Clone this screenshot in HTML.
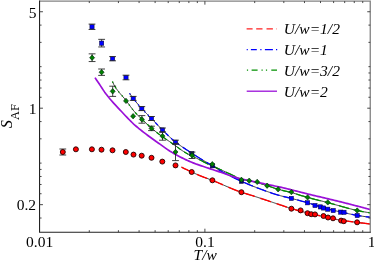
<!DOCTYPE html>
<html><head><meta charset="utf-8"><title>plot</title>
<style>html,body{margin:0;padding:0;background:#fff;overflow:hidden}body{width:374px;height:262px;position:relative;font-family:"Liberation Serif",serif}</style></head>
<body>
<svg width="374" height="262" viewBox="0 0 374 262" style="position:absolute;left:0;top:0;will-change:transform">
<rect x="0" y="0" width="374" height="262" fill="#fff"/>
<g fill="none" stroke-linecap="butt" stroke-linejoin="round">
<path d="M112.50,81.60 L113.79,84.52 L115.09,86.74 L116.38,88.72 L117.68,90.51 L118.97,92.16 L120.26,93.70 L121.56,95.18 L122.85,96.65 L124.15,98.16 L125.44,99.75 L126.73,101.45 L128.03,103.21 L129.32,104.99 L130.62,106.75 L131.91,108.48 L133.20,110.13 L134.50,111.68 L135.79,113.13 L137.09,114.51 L138.38,115.83 L139.67,117.12 L140.97,118.36 L142.26,119.59 L143.56,120.80 L144.85,122.01 L146.14,123.22 L147.44,124.41 L148.73,125.58 L150.03,126.74 L151.32,127.88 L152.61,129.00 L153.91,130.10 L155.20,131.18 L156.49,132.22 L157.79,133.24 L159.08,134.22 L160.38,135.18 L161.67,136.12 L162.96,137.04 L164.26,137.95 L165.55,138.85 L166.85,139.74 L168.14,140.62 L169.43,141.51 L170.73,142.41 L172.02,143.32 L173.32,144.24 L174.61,145.18 L175.90,146.12 L177.20,147.06 L178.49,147.99 L179.79,148.91 L181.08,149.81 L182.37,150.69 L183.67,151.54 L184.96,152.35 L186.26,153.12 L187.55,153.85 L188.84,154.51 L190.14,155.14 L191.43,155.74 L192.73,156.33 L194.02,156.93 L195.31,157.56 L196.61,158.20 L197.90,158.86 L199.20,159.53 L200.49,160.21 L201.78,160.88 L203.08,161.55 L204.37,162.21 L205.67,162.86 L206.96,163.50 L208.25,164.12 L209.55,164.72 L210.84,165.30 L212.14,165.88 L213.43,166.45 L214.72,167.01 L216.02,167.57 L217.31,168.14 L218.61,168.72 L219.90,169.31 L221.19,169.91 L222.49,170.51 L223.78,171.11 L225.08,171.72 L226.37,172.33 L227.66,172.94 L228.96,173.54 L230.25,174.14 L231.55,174.74 L232.84,175.34 L234.13,175.98 L235.43,176.63 L236.72,177.28 L238.02,177.89 L239.31,178.45 L240.60,178.93 L241.90,179.31 L243.19,179.62 L244.48,179.89 L245.78,180.13 L247.07,180.36 L248.37,180.59 L249.66,180.83 L250.95,181.09 L252.25,181.34 L253.54,181.60 L254.84,181.86 L256.13,182.14 L257.42,182.46 L258.72,182.82 L260.01,183.22 L261.31,183.64 L262.60,184.09 L263.89,184.55 L265.19,185.01 L266.48,185.46 L267.78,185.89 L269.07,186.33 L270.36,186.77 L271.66,187.22 L272.95,187.66 L274.25,188.10 L275.54,188.52 L276.83,188.93 L278.13,189.31 L279.42,189.66 L280.72,190.00 L282.01,190.32 L283.30,190.63 L284.60,190.94 L285.89,191.24 L287.19,191.54 L288.48,191.85 L289.77,192.18 L291.07,192.51 L292.36,192.86 L293.66,193.23 L294.95,193.61 L296.24,194.00 L297.54,194.40 L298.83,194.80 L300.13,195.20 L301.42,195.60 L302.71,196.00 L304.01,196.40 L305.30,196.79 L306.60,197.16 L307.89,197.52 L309.18,197.88 L310.48,198.22 L311.77,198.56 L313.07,198.89 L314.36,199.22 L315.65,199.54 L316.95,199.86 L318.24,200.18 L319.54,200.50 L320.83,200.82 L322.12,201.14 L323.42,201.47 L324.71,201.79 L326.01,202.13 L327.30,202.47 L328.59,202.81 L329.89,203.17 L331.18,203.53 L332.47,203.89 L333.77,204.26 L335.06,204.63 L336.36,204.99 L337.65,205.35 L338.94,205.71 L340.24,206.06 L341.53,206.42 L342.83,206.78 L344.12,207.14 L345.41,207.50 L346.71,207.86 L348.00,208.21 L349.30,208.57 L350.59,208.91 L351.88,209.25 L353.18,209.57 L354.47,209.89 L355.77,210.19 L357.06,210.47 L358.35,210.74 L359.65,211.00 L360.94,211.26 L362.24,211.51 L363.53,211.74 L364.82,211.97 L366.12,212.19 L367.41,212.41 L368.71,212.61 L370.00,212.80" stroke="#111" stroke-width="0.8"/>
<path d="M112.50,81.60 L112.82,82.44 L113.13,83.24 L113.45,83.88 L113.76,84.46 L114.08,85.03 L114.39,85.58 L114.71,86.11 L115.02,86.63 L115.34,87.14 L115.65,87.63 L115.97,88.11 L116.28,88.58 L116.60,89.03 L116.91,89.48 L117.23,89.91 L117.54,90.34 L117.86,90.75 L118.17,91.16 L118.49,91.56 L118.80,91.95 L119.12,92.34 L119.43,92.72 L119.75,93.09 L120.06,93.46 L120.38,93.83 L120.69,94.19 L121.01,94.55 L121.32,94.91 L121.64,95.27 L121.95,95.63 L122.27,95.99 L122.58,96.35 L122.90,96.71 L123.21,97.07 L123.53,97.43 L123.84,97.80 L124.16,98.18 L124.47,98.55 L124.79,98.94 L125.11,99.32 L125.42,99.72 L125.74,100.12 L126.05,100.53 L126.37,100.95 L126.68,101.37 L127.00,101.80 L127.31,102.23 L127.63,102.66 L127.94,103.09 L128.26,103.52 L128.57,103.95 L128.89,104.39 L129.20,104.82 L129.52,105.25 L129.83,105.69 L130.15,106.12 L130.46,106.55 L130.78,106.97 L131.09,107.40 L131.41,107.82 L131.72,108.23 L132.04,108.65 L132.35,109.06 L132.67,109.46 L132.98,109.86 L133.30,110.25 L133.61,110.64 L133.93,111.02 L134.24,111.39 L134.56,111.75 L134.87,112.11 L135.19,112.46 L135.50,112.81 L135.82,113.16 L136.13,113.50 L136.45,113.84 L136.76,114.17 L137.08,114.50 L137.39,114.83 L137.71,115.15 L138.03,115.48 L138.34,115.80 L138.66,116.11 L138.97,116.42 L139.29,116.74 L139.60,117.05 L139.92,117.35 L140.23,117.66 L140.55,117.96 L140.86,118.26 L141.18,118.56 L141.49,118.86 L141.81,119.16 L142.12,119.46 L142.44,119.76 L142.75,120.05 L143.07,120.35 L143.38,120.64 L143.70,120.94 L144.01,121.23 L144.33,121.53 L144.64,121.82 L144.96,122.11 L145.27,122.41 L145.59,122.70 L145.90,122.99 L146.22,123.29 L146.53,123.58 L146.85,123.87 L147.16,124.16 L147.48,124.44 L147.79,124.73 L148.11,125.02 L148.42,125.30 L148.74,125.59 L149.05,125.87 L149.37,126.16 L149.68,126.44 L150.00,126.72" stroke="#009000" stroke-width="1.3" stroke-dasharray="1.3 3.4 2.9 4 1.2 4" stroke-dashoffset="0.00"/>
<path d="M150.00,126.72 L150.34,127.02 L150.67,127.32 L151.01,127.61 L151.34,127.91 L151.68,128.20 L152.02,128.49 L152.35,128.78 L152.69,129.07 L153.03,129.36 L153.36,129.64 L153.70,129.93 L154.03,130.21 L154.37,130.49 L154.71,130.77 L155.04,131.04 L155.38,131.32 L155.71,131.59 L156.05,131.86 L156.39,132.13 L156.72,132.40 L157.06,132.67 L157.39,132.93 L157.73,133.19 L158.07,133.45 L158.40,133.71 L158.74,133.96 L159.08,134.22 L159.41,134.47 L159.75,134.72 L160.08,134.97 L160.42,135.22 L160.76,135.46 L161.09,135.71 L161.43,135.95 L161.76,136.19 L162.10,136.43 L162.44,136.67 L162.77,136.91 L163.11,137.14 L163.45,137.38 L163.78,137.62 L164.12,137.85 L164.45,138.08 L164.79,138.32 L165.13,138.55 L165.46,138.78 L165.80,139.01 L166.13,139.25 L166.47,139.48 L166.81,139.71 L167.14,139.94 L167.48,140.17 L167.82,140.40 L168.15,140.63 L168.49,140.86 L168.82,141.09 L169.16,141.32 L169.50,141.56 L169.83,141.79 L170.17,142.02 L170.50,142.25 L170.84,142.49 L171.18,142.72 L171.51,142.96 L171.85,143.20 L172.18,143.43 L172.52,143.67 L172.86,143.91 L173.19,144.16 L173.53,144.40 L173.87,144.64 L174.20,144.88 L174.54,145.13 L174.87,145.37 L175.21,145.62 L175.55,145.86 L175.88,146.10 L176.22,146.35 L176.55,146.59 L176.89,146.84 L177.23,147.08 L177.56,147.32 L177.90,147.57 L178.24,147.81 L178.57,148.05 L178.91,148.29 L179.24,148.53 L179.58,148.77 L179.92,149.00 L180.25,149.24 L180.59,149.47 L180.92,149.71 L181.26,149.94 L181.60,150.17 L181.93,150.39 L182.27,150.62 L182.61,150.84 L182.94,151.07 L183.28,151.29 L183.61,151.50 L183.95,151.72 L184.29,151.93 L184.62,152.14 L184.96,152.35 L185.29,152.55 L185.63,152.75 L185.97,152.95 L186.30,153.15 L186.64,153.34 L186.97,153.53 L187.31,153.72 L187.65,153.90 L187.98,154.07 L188.32,154.25 L188.66,154.42 L188.99,154.59 L189.33,154.75 L189.66,154.91 L190.00,155.07" stroke="#009000" stroke-width="1.3" stroke-dasharray="4.5 4" stroke-dashoffset="0.00"/>
<path d="M190.00,155.07 L191.51,155.77 L193.03,156.46 L194.54,157.17 L196.05,157.92 L197.56,158.69 L199.08,159.47 L200.59,160.26 L202.10,161.04 L203.61,161.82 L205.13,162.59 L206.64,163.34 L208.15,164.07 L209.66,164.77 L211.18,165.45 L212.69,166.12 L214.20,166.78 L215.71,167.44 L217.23,168.11 L218.74,168.78 L220.25,169.47 L221.76,170.17 L223.28,170.88 L224.79,171.59 L226.30,172.30 L227.82,173.01 L229.33,173.71 L230.84,174.41 L232.35,175.11 L233.87,175.85 L235.38,176.61 L236.89,177.36 L238.40,178.06 L239.92,178.68 L241.43,179.18 L242.94,179.56 L244.45,179.88 L245.97,180.16 L247.48,180.43 L248.99,180.70 L250.50,181.00 L252.02,181.30 L253.53,181.59 L255.04,181.90 L256.55,182.24 L258.07,182.63 L259.58,183.08 L261.09,183.57 L262.61,184.09 L264.12,184.63 L265.63,185.17 L267.14,185.68 L268.66,186.19 L270.17,186.71 L271.68,187.23 L273.19,187.75 L274.71,188.25 L276.22,188.74 L277.73,189.19 L279.24,189.62 L280.76,190.01 L282.27,190.39 L283.78,190.75 L285.29,191.10 L286.81,191.45 L288.32,191.82 L289.83,192.19 L291.34,192.59 L292.86,193.00 L294.37,193.44 L295.88,193.89 L297.39,194.35 L298.91,194.82 L300.42,195.29 L301.93,195.76 L303.45,196.23 L304.96,196.68 L306.47,197.13 L307.98,197.55 L309.50,197.96 L311.01,198.36 L312.52,198.75 L314.03,199.13 L315.55,199.51 L317.06,199.89 L318.57,200.26 L320.08,200.63 L321.60,201.01 L323.11,201.39 L324.62,201.77 L326.13,202.16 L327.65,202.56 L329.16,202.97 L330.67,203.39 L332.18,203.81 L333.70,204.24 L335.21,204.67 L336.72,205.09 L338.24,205.52 L339.75,205.93 L341.26,206.34 L342.77,206.76 L344.29,207.18 L345.80,207.60 L347.31,208.02 L348.82,208.44 L350.34,208.84 L351.85,209.24 L353.36,209.62 L354.87,209.98 L356.39,210.32 L357.90,210.65 L359.41,210.96 L360.92,211.25 L362.44,211.54 L363.95,211.82 L365.46,212.08 L366.97,212.34 L368.49,212.57 L370.00,212.80" stroke="#009000" stroke-width="1.3" stroke-dasharray="10.5 4.3" stroke-dashoffset="4.74"/>
<path d="M129.60,93.30 L130.81,95.08 L132.02,96.80 L133.22,98.43 L134.43,99.98 L135.64,101.49 L136.85,102.95 L138.06,104.38 L139.26,105.77 L140.47,107.13 L141.68,108.47 L142.89,109.78 L144.10,111.04 L145.30,112.28 L146.51,113.49 L147.72,114.70 L148.93,115.90 L150.14,117.11 L151.34,118.34 L152.55,119.60 L153.76,120.87 L154.97,122.15 L156.18,123.44 L157.38,124.73 L158.59,126.01 L159.80,127.27 L161.01,128.51 L162.22,129.72 L163.43,130.91 L164.63,132.10 L165.84,133.28 L167.05,134.45 L168.26,135.61 L169.47,136.75 L170.67,137.87 L171.88,138.95 L173.09,140.01 L174.30,141.03 L175.51,142.00 L176.71,142.94 L177.92,143.85 L179.13,144.73 L180.34,145.58 L181.55,146.42 L182.75,147.24 L183.96,148.04 L185.17,148.83 L186.38,149.62 L187.59,150.40 L188.79,151.18 L190.00,151.96 L191.21,152.75 L192.42,153.54 L193.63,154.33 L194.83,155.12 L196.04,155.90 L197.25,156.67 L198.46,157.44 L199.67,158.19 L200.87,158.94 L202.08,159.66 L203.29,160.38 L204.50,161.08 L205.71,161.78 L206.91,162.48 L208.12,163.18 L209.33,163.89 L210.54,164.61 L211.75,165.34 L212.95,166.09 L214.16,166.87 L215.37,167.68 L216.58,168.49 L217.79,169.27 L218.99,170.00 L220.20,170.69 L221.41,171.37 L222.62,172.03 L223.83,172.69 L225.04,173.33 L226.24,173.97 L227.45,174.59 L228.66,175.20 L229.87,175.81 L231.08,176.40 L232.28,176.99 L233.49,177.57 L234.70,178.15 L235.91,178.72 L237.12,179.28 L238.32,179.84 L239.53,180.40 L240.74,180.95 L241.95,181.50 L243.16,182.05 L244.36,182.59 L245.57,183.12 L246.78,183.64 L247.99,184.16 L249.20,184.67 L250.40,185.17 L251.61,185.67 L252.82,186.15 L254.03,186.62 L255.24,187.09 L256.44,187.55 L257.65,188.01 L258.86,188.47 L260.07,188.92 L261.28,189.37 L262.48,189.82 L263.69,190.26 L264.90,190.70 L266.11,191.13 L267.32,191.56 L268.52,191.98 L269.73,192.39 L270.94,192.80 L272.15,193.20 L273.36,193.59 L274.56,193.98 L275.77,194.35 L276.98,194.72 L278.19,195.08 L279.40,195.43 L280.61,195.77 L281.81,196.09 L283.02,196.39 L284.23,196.69 L285.44,196.97 L286.65,197.25 L287.85,197.54 L289.06,197.82 L290.27,198.12 L291.48,198.42 L292.69,198.73 L293.89,199.05 L295.10,199.36 L296.31,199.68 L297.52,200.00 L298.73,200.33 L299.93,200.66 L301.14,200.99 L302.35,201.32 L303.56,201.65 L304.77,201.99 L305.97,202.34 L307.18,202.68 L308.39,203.03 L309.60,203.39 L310.81,203.76 L312.01,204.14 L313.22,204.52 L314.43,204.91 L315.64,205.30 L316.85,205.69 L318.05,206.09 L319.26,206.47 L320.47,206.86 L321.68,207.24 L322.89,207.61 L324.09,207.97 L325.30,208.32 L326.51,208.66 L327.72,208.98 L328.93,209.29 L330.13,209.59 L331.34,209.87 L332.55,210.15 L333.76,210.43 L334.97,210.70 L336.17,210.96 L337.38,211.23 L338.59,211.49 L339.80,211.76 L341.01,212.02 L342.22,212.29 L343.42,212.56 L344.63,212.83 L345.84,213.10 L347.05,213.37 L348.26,213.64 L349.46,213.90 L350.67,214.16 L351.88,214.41 L353.09,214.65 L354.30,214.88 L355.50,215.11 L356.71,215.32 L357.92,215.52 L359.13,215.71 L360.34,215.90 L361.54,216.09 L362.75,216.27 L363.96,216.44 L365.17,216.60 L366.38,216.76 L367.58,216.92 L368.79,217.06 L370.00,217.20" stroke="#111" stroke-width="0.8"/>
<path d="M129.60,93.30 L129.77,93.55 L129.94,93.81 L130.11,94.06 L130.29,94.31 L130.46,94.57 L130.63,94.82 L130.80,95.07 L130.97,95.31 L131.14,95.56 L131.31,95.81 L131.49,96.05 L131.66,96.30 L131.83,96.54 L132.00,96.78 L132.17,97.01 L132.34,97.25 L132.51,97.49 L132.69,97.72 L132.86,97.95 L133.03,98.17 L133.20,98.40 L133.37,98.62 L133.54,98.85 L133.71,99.07 L133.89,99.29 L134.06,99.51 L134.23,99.73 L134.40,99.94 L134.57,100.16 L134.74,100.38 L134.91,100.59 L135.09,100.80 L135.26,101.02 L135.43,101.23 L135.60,101.44 L135.77,101.65 L135.94,101.86 L136.11,102.07 L136.29,102.28 L136.46,102.48 L136.63,102.69 L136.80,102.89 L136.97,103.10 L137.14,103.30 L137.31,103.50 L137.49,103.71 L137.66,103.91 L137.83,104.11 L138.00,104.31 L138.17,104.51 L138.34,104.71 L138.51,104.91 L138.69,105.10 L138.86,105.30 L139.03,105.50 L139.20,105.69 L139.37,105.89 L139.54,106.08 L139.71,106.28 L139.89,106.47 L140.06,106.66 L140.23,106.86 L140.40,107.05 L140.57,107.24 L140.74,107.43 L140.91,107.62 L141.09,107.81 L141.26,108.00 L141.43,108.19 L141.60,108.38 L141.77,108.57 L141.94,108.76 L142.11,108.94 L142.29,109.13 L142.46,109.31 L142.63,109.50 L142.80,109.68 L142.97,109.86 L143.14,110.05 L143.31,110.23 L143.49,110.41 L143.66,110.59 L143.83,110.77 L144.00,110.94 L144.17,111.12 L144.34,111.30 L144.51,111.47 L144.69,111.65 L144.86,111.82 L145.03,112.00 L145.20,112.17 L145.37,112.35 L145.54,112.52 L145.71,112.69 L145.89,112.86 L146.06,113.04 L146.23,113.21 L146.40,113.38 L146.57,113.55 L146.74,113.72 L146.91,113.89 L147.09,114.06 L147.26,114.24 L147.43,114.41 L147.60,114.58 L147.77,114.75 L147.94,114.92 L148.11,115.09 L148.29,115.26 L148.46,115.43 L148.63,115.60 L148.80,115.77 L148.97,115.94 L149.14,116.11 L149.31,116.28 L149.49,116.45 L149.66,116.63 L149.83,116.80 L150.00,116.97" stroke="#0000ff" stroke-width="1.3" stroke-dasharray="1.3 3.4" stroke-dashoffset="0.00"/>
<path d="M150.00,116.97 L150.24,117.21 L150.47,117.45 L150.71,117.69 L150.94,117.93 L151.18,118.17 L151.41,118.41 L151.65,118.65 L151.88,118.90 L152.12,119.14 L152.35,119.39 L152.59,119.63 L152.82,119.88 L153.06,120.13 L153.29,120.38 L153.53,120.62 L153.76,120.87 L154.00,121.12 L154.24,121.37 L154.47,121.62 L154.71,121.87 L154.94,122.12 L155.18,122.37 L155.41,122.63 L155.65,122.88 L155.88,123.13 L156.12,123.38 L156.35,123.63 L156.59,123.88 L156.82,124.13 L157.06,124.38 L157.29,124.63 L157.53,124.88 L157.76,125.13 L158.00,125.38 L158.24,125.63 L158.47,125.88 L158.71,126.13 L158.94,126.37 L159.18,126.62 L159.41,126.86 L159.65,127.11 L159.88,127.35 L160.12,127.60 L160.35,127.84 L160.59,128.08 L160.82,128.32 L161.06,128.56 L161.29,128.80 L161.53,129.04 L161.76,129.27 L162.00,129.51 L162.24,129.74 L162.47,129.97 L162.71,130.20 L162.94,130.43 L163.18,130.66 L163.41,130.90 L163.65,131.13 L163.88,131.36 L164.12,131.59 L164.35,131.82 L164.59,132.05 L164.82,132.28 L165.06,132.51 L165.29,132.74 L165.53,132.97 L165.76,133.20 L166.00,133.43 L166.24,133.66 L166.47,133.89 L166.71,134.12 L166.94,134.35 L167.18,134.57 L167.41,134.80 L167.65,135.03 L167.88,135.25 L168.12,135.48 L168.35,135.70 L168.59,135.92 L168.82,136.15 L169.06,136.37 L169.29,136.59 L169.53,136.81 L169.76,137.03 L170.00,137.25 L170.24,137.46 L170.47,137.68 L170.71,137.90 L170.94,138.11 L171.18,138.32 L171.41,138.53 L171.65,138.75 L171.88,138.96 L172.12,139.16 L172.35,139.37 L172.59,139.58 L172.82,139.78 L173.06,139.98 L173.29,140.19 L173.53,140.39 L173.76,140.58 L174.00,140.78 L174.24,140.98 L174.47,141.17 L174.71,141.36 L174.94,141.55 L175.18,141.74 L175.41,141.93 L175.65,142.12 L175.88,142.30 L176.12,142.48 L176.35,142.67 L176.59,142.85 L176.82,143.03 L177.06,143.20 L177.29,143.38 L177.53,143.56 L177.76,143.73 L178.00,143.91" stroke="#0000ff" stroke-width="1.3" stroke-dasharray="4 3.5" stroke-dashoffset="0.00"/>
<path d="M178.00,143.91 L179.61,145.07 L181.23,146.20 L182.84,147.29 L184.45,148.36 L186.07,149.42 L187.68,150.46 L189.29,151.50 L190.91,152.55 L192.52,153.61 L194.13,154.67 L195.75,155.71 L197.36,156.75 L198.97,157.76 L200.59,158.76 L202.20,159.73 L203.82,160.68 L205.43,161.62 L207.04,162.55 L208.66,163.49 L210.27,164.44 L211.88,165.42 L213.50,166.43 L215.11,167.50 L216.72,168.58 L218.34,169.61 L219.95,170.55 L221.56,171.45 L223.18,172.34 L224.79,173.20 L226.40,174.05 L228.02,174.88 L229.63,175.69 L231.24,176.49 L232.86,177.27 L234.47,178.04 L236.08,178.80 L237.70,179.55 L239.31,180.30 L240.92,181.04 L242.54,181.77 L244.15,182.49 L245.76,183.20 L247.38,183.90 L248.99,184.59 L250.61,185.25 L252.22,185.91 L253.83,186.55 L255.45,187.17 L257.06,187.79 L258.67,188.40 L260.29,189.00 L261.90,189.60 L263.51,190.19 L265.13,190.78 L266.74,191.35 L268.35,191.92 L269.97,192.47 L271.58,193.01 L273.19,193.54 L274.81,194.05 L276.42,194.55 L278.03,195.03 L279.65,195.50 L281.26,195.94 L282.87,196.36 L284.49,196.75 L286.10,197.13 L287.71,197.50 L289.33,197.89 L290.94,198.28 L292.55,198.70 L294.17,199.12 L295.78,199.54 L297.39,199.97 L299.01,200.41 L300.62,200.84 L302.24,201.29 L303.85,201.74 L305.46,202.19 L307.08,202.65 L308.69,203.12 L310.30,203.61 L311.92,204.11 L313.53,204.62 L315.14,205.14 L316.76,205.66 L318.37,206.19 L319.98,206.70 L321.60,207.21 L323.21,207.71 L324.82,208.18 L326.44,208.64 L328.05,209.06 L329.66,209.47 L331.28,209.86 L332.89,210.23 L334.50,210.60 L336.12,210.95 L337.73,211.30 L339.34,211.66 L340.96,212.01 L342.57,212.37 L344.18,212.73 L345.80,213.09 L347.41,213.45 L349.03,213.81 L350.64,214.15 L352.25,214.48 L353.87,214.80 L355.48,215.10 L357.09,215.38 L358.71,215.65 L360.32,215.90 L361.93,216.15 L363.55,216.38 L365.16,216.60 L366.77,216.81 L368.39,217.01 L370.00,217.20" stroke="#0000ff" stroke-width="1.3" stroke-dasharray="10 4.1" stroke-dashoffset="8.42"/>
<path d="M181.50,167.20 L182.45,167.66 L183.39,168.11 L184.34,168.57 L185.29,169.02 L186.24,169.46 L187.18,169.91 L188.13,170.35 L189.08,170.79 L190.03,171.23 L190.97,171.67 L191.92,172.10 L192.87,172.53 L193.81,172.97 L194.76,173.40 L195.71,173.83 L196.66,174.26 L197.60,174.68 L198.55,175.09 L199.50,175.49 L200.44,175.88 L201.39,176.26 L202.34,176.63 L203.29,177.00 L204.23,177.35 L205.18,177.71 L206.13,178.05 L207.08,178.40 L208.02,178.75 L208.97,179.10 L209.92,179.45 L210.86,179.81 L211.81,180.17 L212.76,180.54 L213.71,180.92 L214.65,181.30 L215.60,181.69 L216.55,182.08 L217.49,182.48 L218.44,182.88 L219.39,183.29 L220.34,183.69 L221.28,184.10 L222.23,184.51 L223.18,184.92 L224.13,185.34 L225.07,185.75 L226.02,186.16 L226.97,186.57 L227.91,186.98 L228.86,187.39 L229.81,187.79 L230.76,188.19 L231.70,188.59 L232.65,188.98 L233.60,189.37 L234.55,189.75 L235.49,190.13 L236.44,190.50 L237.39,190.86 L238.33,191.21 L239.28,191.56 L240.23,191.90 L241.18,192.22 L242.12,192.54 L243.07,192.84 L244.02,193.13 L244.96,193.41 L245.91,193.69 L246.86,193.96 L247.81,194.24 L248.75,194.52 L249.70,194.81 L250.65,195.10 L251.60,195.40 L252.54,195.70 L253.49,196.00 L254.44,196.31 L255.38,196.61 L256.33,196.92 L257.28,197.23 L258.23,197.54 L259.17,197.85 L260.12,198.16 L261.07,198.47 L262.02,198.79 L262.96,199.10 L263.91,199.42 L264.86,199.73 L265.80,200.05 L266.75,200.36 L267.70,200.68 L268.65,201.00 L269.59,201.32 L270.54,201.64 L271.49,201.95 L272.43,202.27 L273.38,202.59 L274.33,202.91 L275.28,203.22 L276.22,203.54 L277.17,203.86 L278.12,204.17 L279.07,204.49 L280.01,204.80 L280.96,205.12 L281.91,205.44 L282.85,205.77 L283.80,206.09 L284.75,206.42 L285.70,206.75 L286.64,207.07 L287.59,207.39 L288.54,207.70 L289.48,208.01 L290.43,208.31 L291.38,208.59 L292.33,208.87 L293.27,209.15 L294.22,209.42 L295.17,209.69 L296.12,209.95 L297.06,210.21 L298.01,210.47 L298.96,210.72 L299.90,210.98 L300.85,211.22 L301.80,211.47 L302.75,211.71 L303.69,211.95 L304.64,212.19 L305.59,212.43 L306.54,212.66 L307.48,212.90 L308.43,213.13 L309.38,213.36 L310.32,213.58 L311.27,213.81 L312.22,214.03 L313.17,214.25 L314.11,214.47 L315.06,214.68 L316.01,214.90 L316.95,215.11 L317.90,215.32 L318.85,215.54 L319.80,215.75 L320.74,215.95 L321.69,216.16 L322.64,216.37 L323.59,216.58 L324.53,216.79 L325.48,216.99 L326.43,217.20 L327.37,217.41 L328.32,217.62 L329.27,217.83 L330.22,218.04 L331.16,218.26 L332.11,218.48 L333.06,218.69 L334.01,218.90 L334.95,219.11 L335.90,219.32 L336.85,219.51 L337.79,219.70 L338.74,219.88 L339.69,220.05 L340.64,220.20 L341.58,220.36 L342.53,220.50 L343.48,220.64 L344.42,220.78 L345.37,220.91 L346.32,221.03 L347.27,221.16 L348.21,221.28 L349.16,221.40 L350.11,221.52 L351.06,221.64 L352.00,221.75 L352.95,221.87 L353.90,221.99 L354.84,222.10 L355.79,222.22 L356.74,222.34 L357.69,222.46 L358.63,222.58 L359.58,222.71 L360.53,222.83 L361.47,222.95 L362.42,223.06 L363.37,223.18 L364.32,223.30 L365.26,223.42 L366.21,223.54 L367.16,223.65 L368.11,223.77 L369.05,223.88 L370.00,224.00" stroke="#111" stroke-width="0.8"/>
<path d="M181.50,167.20 L182.45,167.66 L183.39,168.11 L184.34,168.57 L185.29,169.02 L186.24,169.46 L187.18,169.91 L188.13,170.35 L189.08,170.79 L190.03,171.23 L190.97,171.67 L191.92,172.10 L192.87,172.53 L193.81,172.97 L194.76,173.40 L195.71,173.83 L196.66,174.26 L197.60,174.68 L198.55,175.09 L199.50,175.49 L200.44,175.88 L201.39,176.26 L202.34,176.63 L203.29,177.00 L204.23,177.35 L205.18,177.71 L206.13,178.05 L207.08,178.40 L208.02,178.75 L208.97,179.10 L209.92,179.45 L210.86,179.81 L211.81,180.17 L212.76,180.54 L213.71,180.92 L214.65,181.30 L215.60,181.69 L216.55,182.08 L217.49,182.48 L218.44,182.88 L219.39,183.29 L220.34,183.69 L221.28,184.10 L222.23,184.51 L223.18,184.92 L224.13,185.34 L225.07,185.75 L226.02,186.16 L226.97,186.57 L227.91,186.98 L228.86,187.39 L229.81,187.79 L230.76,188.19 L231.70,188.59 L232.65,188.98 L233.60,189.37 L234.55,189.75 L235.49,190.13 L236.44,190.50 L237.39,190.86 L238.33,191.21 L239.28,191.56 L240.23,191.90 L241.18,192.22 L242.12,192.54 L243.07,192.84 L244.02,193.13 L244.96,193.41 L245.91,193.69 L246.86,193.96 L247.81,194.24 L248.75,194.52 L249.70,194.81 L250.65,195.10 L251.60,195.40 L252.54,195.70 L253.49,196.00 L254.44,196.31 L255.38,196.61 L256.33,196.92 L257.28,197.23 L258.23,197.54 L259.17,197.85 L260.12,198.16 L261.07,198.47 L262.02,198.79 L262.96,199.10 L263.91,199.42 L264.86,199.73 L265.80,200.05 L266.75,200.36 L267.70,200.68 L268.65,201.00 L269.59,201.32 L270.54,201.64 L271.49,201.95 L272.43,202.27 L273.38,202.59 L274.33,202.91 L275.28,203.22 L276.22,203.54 L277.17,203.86 L278.12,204.17 L279.07,204.49 L280.01,204.80 L280.96,205.12 L281.91,205.44 L282.85,205.77 L283.80,206.09 L284.75,206.42 L285.70,206.75 L286.64,207.07 L287.59,207.39 L288.54,207.70 L289.48,208.01 L290.43,208.31 L291.38,208.59 L292.33,208.87 L293.27,209.15 L294.22,209.42 L295.17,209.69 L296.12,209.95 L297.06,210.21 L298.01,210.47 L298.96,210.72 L299.90,210.98 L300.85,211.22 L301.80,211.47 L302.75,211.71 L303.69,211.95 L304.64,212.19 L305.59,212.43 L306.54,212.66 L307.48,212.90 L308.43,213.13 L309.38,213.36 L310.32,213.58 L311.27,213.81 L312.22,214.03 L313.17,214.25 L314.11,214.47 L315.06,214.68 L316.01,214.90 L316.95,215.11 L317.90,215.32 L318.85,215.54 L319.80,215.75 L320.74,215.95 L321.69,216.16 L322.64,216.37 L323.59,216.58 L324.53,216.79 L325.48,216.99 L326.43,217.20 L327.37,217.41 L328.32,217.62 L329.27,217.83 L330.22,218.04 L331.16,218.26 L332.11,218.48 L333.06,218.69 L334.01,218.90 L334.95,219.11 L335.90,219.32 L336.85,219.51 L337.79,219.70 L338.74,219.88 L339.69,220.05 L340.64,220.20 L341.58,220.36 L342.53,220.50 L343.48,220.64 L344.42,220.78 L345.37,220.91 L346.32,221.03 L347.27,221.16 L348.21,221.28 L349.16,221.40 L350.11,221.52 L351.06,221.64 L352.00,221.75 L352.95,221.87 L353.90,221.99 L354.84,222.10 L355.79,222.22 L356.74,222.34 L357.69,222.46 L358.63,222.58 L359.58,222.71 L360.53,222.83 L361.47,222.95 L362.42,223.06 L363.37,223.18 L364.32,223.30 L365.26,223.42 L366.21,223.54 L367.16,223.65 L368.11,223.77 L369.05,223.88 L370.00,224.00" stroke="#ff0000" stroke-width="1.4" stroke-dasharray="11 6" stroke-dashoffset="0"/>
<path d="M95.00,77.60 L96.38,79.68 L97.76,81.75 L99.15,83.82 L100.53,85.89 L101.91,87.99 L103.29,90.10 L104.67,92.15 L106.06,94.04 L107.44,95.83 L108.82,97.55 L110.20,99.20 L111.58,100.82 L112.96,102.40 L114.35,103.93 L115.73,105.42 L117.11,106.88 L118.49,108.34 L119.87,109.80 L121.26,111.29 L122.64,112.79 L124.02,114.28 L125.40,115.73 L126.78,117.18 L128.17,118.61 L129.55,120.03 L130.93,121.42 L132.31,122.76 L133.69,124.06 L135.08,125.30 L136.46,126.50 L137.84,127.66 L139.22,128.80 L140.60,129.91 L141.98,130.99 L143.37,132.06 L144.75,133.12 L146.13,134.17 L147.51,135.21 L148.89,136.25 L150.28,137.28 L151.66,138.29 L153.04,139.29 L154.42,140.28 L155.80,141.25 L157.19,142.23 L158.57,143.19 L159.95,144.16 L161.33,145.14 L162.71,146.14 L164.10,147.13 L165.48,148.12 L166.86,149.09 L168.24,150.04 L169.62,150.94 L171.01,151.80 L172.39,152.63 L173.77,153.43 L175.15,154.22 L176.53,154.99 L177.91,155.74 L179.30,156.47 L180.68,157.18 L182.06,157.88 L183.44,158.57 L184.82,159.23 L186.21,159.89 L187.59,160.52 L188.97,161.14 L190.35,161.74 L191.73,162.31 L193.12,162.87 L194.50,163.41 L195.88,163.93 L197.26,164.42 L198.64,164.90 L200.03,165.37 L201.41,165.83 L202.79,166.29 L204.17,166.76 L205.55,167.23 L206.93,167.69 L208.32,168.15 L209.70,168.61 L211.08,169.07 L212.46,169.53 L213.84,169.99 L215.23,170.45 L216.61,170.90 L217.99,171.36 L219.37,171.82 L220.75,172.29 L222.14,172.78 L223.52,173.26 L224.90,173.76 L226.28,174.25 L227.66,174.75 L229.05,175.24 L230.43,175.73 L231.81,176.20 L233.19,176.67 L234.57,177.12 L235.95,177.55 L237.34,177.97 L238.72,178.36 L240.10,178.73 L241.48,179.07 L242.86,179.39 L244.25,179.70 L245.63,180.00 L247.01,180.29 L248.39,180.57 L249.77,180.84 L251.16,181.12 L252.54,181.39 L253.92,181.68 L255.30,181.96 L256.68,182.25 L258.07,182.54 L259.45,182.83 L260.83,183.12 L262.21,183.41 L263.59,183.69 L264.97,183.98 L266.36,184.27 L267.74,184.55 L269.12,184.84 L270.50,185.12 L271.88,185.40 L273.27,185.68 L274.65,185.96 L276.03,186.25 L277.41,186.54 L278.79,186.83 L280.18,187.14 L281.56,187.45 L282.94,187.77 L284.32,188.09 L285.70,188.42 L287.09,188.75 L288.47,189.09 L289.85,189.43 L291.23,189.78 L292.61,190.12 L293.99,190.47 L295.38,190.82 L296.76,191.17 L298.14,191.52 L299.52,191.87 L300.90,192.23 L302.29,192.58 L303.67,192.93 L305.05,193.27 L306.43,193.62 L307.81,193.96 L309.20,194.30 L310.58,194.64 L311.96,194.97 L313.34,195.31 L314.72,195.64 L316.11,195.97 L317.49,196.30 L318.87,196.63 L320.25,196.95 L321.63,197.28 L323.02,197.61 L324.40,197.93 L325.78,198.26 L327.16,198.59 L328.54,198.92 L329.92,199.25 L331.31,199.58 L332.69,199.91 L334.07,200.24 L335.45,200.58 L336.83,200.92 L338.22,201.26 L339.60,201.60 L340.98,201.94 L342.36,202.29 L343.74,202.64 L345.13,202.99 L346.51,203.34 L347.89,203.69 L349.27,204.04 L350.65,204.40 L352.04,204.76 L353.42,205.11 L354.80,205.47 L356.18,205.83 L357.56,206.19 L358.94,206.55 L360.33,206.92 L361.71,207.28 L363.09,207.65 L364.47,208.02 L365.85,208.39 L367.24,208.76 L368.62,209.13 L370.00,209.50" stroke="#9a10d8" stroke-width="1.7"/>
</g>
<path d="M62.80,149.00 V155.00 M59.40,149.00 H66.20 M59.40,155.00 H66.20" stroke="#2a2a2a" stroke-width="0.9" fill="none"/>
<circle cx="62.80" cy="152.00" r="2.5" fill="#ff0000" stroke="#200" stroke-width="0.9"/>
<circle cx="75.90" cy="149.30" r="2.5" fill="#ff0000" stroke="#200" stroke-width="0.9"/>
<circle cx="91.90" cy="149.30" r="2.5" fill="#ff0000" stroke="#200" stroke-width="0.9"/>
<circle cx="101.50" cy="149.70" r="2.5" fill="#ff0000" stroke="#200" stroke-width="0.9"/>
<circle cx="112.50" cy="150.30" r="2.5" fill="#ff0000" stroke="#200" stroke-width="0.9"/>
<circle cx="125.80" cy="152.00" r="2.5" fill="#ff0000" stroke="#200" stroke-width="0.9"/>
<circle cx="133.50" cy="154.60" r="2.5" fill="#ff0000" stroke="#200" stroke-width="0.9"/>
<circle cx="141.70" cy="155.70" r="2.5" fill="#ff0000" stroke="#200" stroke-width="0.9"/>
<circle cx="151.50" cy="157.80" r="2.5" fill="#ff0000" stroke="#200" stroke-width="0.9"/>
<circle cx="162.30" cy="161.60" r="2.5" fill="#ff0000" stroke="#200" stroke-width="0.9"/>
<circle cx="175.50" cy="165.40" r="2.5" fill="#ff0000" stroke="#200" stroke-width="0.9"/>
<circle cx="191.70" cy="172.00" r="2.5" fill="#ff0000" stroke="#200" stroke-width="0.9"/>
<circle cx="212.40" cy="180.30" r="2.5" fill="#ff0000" stroke="#200" stroke-width="0.9"/>
<circle cx="241.40" cy="192.20" r="2.5" fill="#ff0000" stroke="#200" stroke-width="0.9"/>
<circle cx="291.40" cy="208.70" r="2.5" fill="#ff0000" stroke="#200" stroke-width="0.9"/>
<circle cx="300.60" cy="210.40" r="2.5" fill="#ff0000" stroke="#200" stroke-width="0.9"/>
<circle cx="307.50" cy="213.20" r="2.5" fill="#ff0000" stroke="#200" stroke-width="0.9"/>
<circle cx="311.20" cy="214.20" r="2.5" fill="#ff0000" stroke="#200" stroke-width="0.9"/>
<circle cx="315.00" cy="214.40" r="2.5" fill="#ff0000" stroke="#200" stroke-width="0.9"/>
<circle cx="323.50" cy="216.00" r="2.5" fill="#ff0000" stroke="#200" stroke-width="0.9"/>
<circle cx="328.00" cy="217.50" r="2.5" fill="#ff0000" stroke="#200" stroke-width="0.9"/>
<circle cx="333.00" cy="218.30" r="2.5" fill="#ff0000" stroke="#200" stroke-width="0.9"/>
<circle cx="341.10" cy="220.60" r="2.5" fill="#ff0000" stroke="#200" stroke-width="0.9"/>
<circle cx="343.80" cy="221.20" r="2.5" fill="#ff0000" stroke="#200" stroke-width="0.9"/>
<circle cx="357.10" cy="222.30" r="2.5" fill="#ff0000" stroke="#200" stroke-width="0.9"/>
<path d="M92.00,24.10 V29.50 " stroke="#2a2a2a" stroke-width="0.9" fill="none"/>
<rect x="89.90" y="24.70" width="4.2" height="4.2" fill="#0000ff" stroke="#003" stroke-width="0.5"/>
<path d="M88.60,24.10 H95.40 M88.60,29.50 H95.40" stroke="#2a2a2a" stroke-width="0.9" fill="none"/>
<path d="M101.65,39.35 V46.95 " stroke="#2a2a2a" stroke-width="0.9" fill="none"/>
<rect x="99.55" y="41.05" width="4.2" height="4.2" fill="#0000ff" stroke="#003" stroke-width="0.5"/>
<path d="M98.25,39.35 H105.05 M98.25,46.95 H105.05" stroke="#2a2a2a" stroke-width="0.9" fill="none"/>
<path d="M112.60,56.60 V60.80 " stroke="#2a2a2a" stroke-width="0.9" fill="none"/>
<rect x="110.50" y="56.60" width="4.2" height="4.2" fill="#0000ff" stroke="#003" stroke-width="0.5"/>
<path d="M109.20,56.60 H116.00 M109.20,60.80 H116.00" stroke="#2a2a2a" stroke-width="0.9" fill="none"/>
<path d="M126.00,75.20 V79.80 " stroke="#2a2a2a" stroke-width="0.9" fill="none"/>
<rect x="123.90" y="75.40" width="4.2" height="4.2" fill="#0000ff" stroke="#003" stroke-width="0.5"/>
<path d="M122.60,75.20 H129.40 M122.60,79.80 H129.40" stroke="#2a2a2a" stroke-width="0.9" fill="none"/>
<path d="M133.20,96.40 V100.40 " stroke="#2a2a2a" stroke-width="0.9" fill="none"/>
<rect x="131.10" y="96.30" width="4.2" height="4.2" fill="#0000ff" stroke="#003" stroke-width="0.5"/>
<path d="M129.80,96.40 H136.60 M129.80,100.40 H136.60" stroke="#2a2a2a" stroke-width="0.9" fill="none"/>
<path d="M141.80,106.60 V110.60 " stroke="#2a2a2a" stroke-width="0.9" fill="none"/>
<rect x="139.70" y="106.50" width="4.2" height="4.2" fill="#0000ff" stroke="#003" stroke-width="0.5"/>
<path d="M138.40,106.60 H145.20 M138.40,110.60 H145.20" stroke="#2a2a2a" stroke-width="0.9" fill="none"/>
<path d="M151.50,116.50 V120.50 " stroke="#2a2a2a" stroke-width="0.9" fill="none"/>
<rect x="149.40" y="116.40" width="4.2" height="4.2" fill="#0000ff" stroke="#003" stroke-width="0.5"/>
<path d="M148.10,116.50 H154.90 M148.10,120.50 H154.90" stroke="#2a2a2a" stroke-width="0.9" fill="none"/>
<path d="M162.50,128.00 V132.00 " stroke="#2a2a2a" stroke-width="0.9" fill="none"/>
<rect x="160.40" y="127.90" width="4.2" height="4.2" fill="#0000ff" stroke="#003" stroke-width="0.5"/>
<path d="M159.10,128.00 H165.90 M159.10,132.00 H165.90" stroke="#2a2a2a" stroke-width="0.9" fill="none"/>
<path d="M175.50,140.20 V144.20 " stroke="#2a2a2a" stroke-width="0.9" fill="none"/>
<rect x="173.40" y="140.10" width="4.2" height="4.2" fill="#0000ff" stroke="#003" stroke-width="0.5"/>
<path d="M172.10,140.20 H178.90 M172.10,144.20 H178.90" stroke="#2a2a2a" stroke-width="0.9" fill="none"/>
<rect x="189.70" y="151.50" width="4.2" height="4.2" fill="#000078" stroke="#003" stroke-width="0.5"/>
<rect x="210.30" y="163.70" width="4.2" height="4.2" fill="#000078" stroke="#003" stroke-width="0.5"/>
<rect x="239.40" y="179.20" width="4.2" height="4.2" fill="#000078" stroke="#003" stroke-width="0.5"/>
<rect x="289.30" y="196.30" width="4.2" height="4.2" fill="#0000ff" stroke="#003" stroke-width="0.5"/>
<rect x="305.50" y="200.70" width="4.2" height="4.2" fill="#0000ff" stroke="#003" stroke-width="0.5"/>
<rect x="312.90" y="203.40" width="4.2" height="4.2" fill="#0000ff" stroke="#003" stroke-width="0.5"/>
<rect x="318.30" y="204.80" width="4.2" height="4.2" fill="#0000ff" stroke="#003" stroke-width="0.5"/>
<rect x="321.50" y="205.90" width="4.2" height="4.2" fill="#0000ff" stroke="#003" stroke-width="0.5"/>
<rect x="325.70" y="207.10" width="4.2" height="4.2" fill="#0000ff" stroke="#003" stroke-width="0.5"/>
<rect x="331.10" y="208.40" width="4.2" height="4.2" fill="#0000ff" stroke="#003" stroke-width="0.5"/>
<rect x="338.60" y="210.00" width="4.2" height="4.2" fill="#0000ff" stroke="#003" stroke-width="0.5"/>
<rect x="341.90" y="210.20" width="4.2" height="4.2" fill="#0000ff" stroke="#003" stroke-width="0.5"/>
<rect x="355.10" y="213.40" width="4.2" height="4.2" fill="#0000ff" stroke="#003" stroke-width="0.5"/>
<path d="M92.10,53.85 V61.55 M88.70,53.85 H95.50 M88.70,61.55 H95.50" stroke="#2a2a2a" stroke-width="0.9" fill="none"/>
<path d="M92.10,55.00 L94.60,57.70 L92.10,60.40 L89.60,57.70 Z" fill="#008000" stroke="#021" stroke-width="0.6"/>
<path d="M101.60,69.00 V75.40 M98.20,69.00 H105.00 M98.20,75.40 H105.00" stroke="#2a2a2a" stroke-width="0.9" fill="none"/>
<path d="M101.60,69.50 L104.10,72.20 L101.60,74.90 L99.10,72.20 Z" fill="#008000" stroke="#021" stroke-width="0.6"/>
<path d="M112.70,86.20 V96.40 M109.30,86.20 H116.10 M109.30,96.40 H116.10" stroke="#2a2a2a" stroke-width="0.9" fill="none"/>
<path d="M112.70,88.60 L115.20,91.30 L112.70,94.00 L110.20,91.30 Z" fill="#008000" stroke="#021" stroke-width="0.6"/>
<path d="M126.00,98.20 L128.50,100.90 L126.00,103.60 L123.50,100.90 Z" fill="#008000" stroke="#021" stroke-width="0.6"/>
<path d="M133.10,113.50 L135.60,116.20 L133.10,118.90 L130.60,116.20 Z" fill="#008000" stroke="#021" stroke-width="0.6"/>
<path d="M141.90,115.60 V123.20 M138.50,115.60 H145.30 M138.50,123.20 H145.30" stroke="#2a2a2a" stroke-width="0.9" fill="none"/>
<path d="M141.90,116.70 L144.40,119.40 L141.90,122.10 L139.40,119.40 Z" fill="#008000" stroke="#021" stroke-width="0.6"/>
<path d="M151.50,126.20 V130.60 M148.10,126.20 H154.90 M148.10,130.60 H154.90" stroke="#2a2a2a" stroke-width="0.9" fill="none"/>
<path d="M151.50,125.70 L154.00,128.40 L151.50,131.10 L149.00,128.40 Z" fill="#008000" stroke="#021" stroke-width="0.6"/>
<path d="M162.50,132.00 V140.20 M159.10,132.00 H165.90 M159.10,140.20 H165.90" stroke="#2a2a2a" stroke-width="0.9" fill="none"/>
<path d="M162.50,133.40 L165.00,136.10 L162.50,138.80 L160.00,136.10 Z" fill="#008000" stroke="#021" stroke-width="0.6"/>
<path d="M175.50,143.40 V160.60 M172.10,143.40 H178.90 M172.10,160.60 H178.90" stroke="#2a2a2a" stroke-width="0.9" fill="none"/>
<path d="M175.50,149.30 L178.00,152.00 L175.50,154.70 L173.00,152.00 Z" fill="#008000" stroke="#021" stroke-width="0.6"/>
<path d="M192.00,152.10 V158.50 M188.60,152.10 H195.40 M188.60,158.50 H195.40" stroke="#2a2a2a" stroke-width="0.9" fill="none"/>
<path d="M192.00,152.60 L194.50,155.30 L192.00,158.00 L189.50,155.30 Z" fill="#008000" stroke="#021" stroke-width="0.6"/>
<path d="M212.30,161.50 L214.80,164.20 L212.30,166.90 L209.80,164.20 Z" fill="#008000" stroke="#021" stroke-width="0.6"/>
<path d="M241.40,177.10 L243.90,179.80 L241.40,182.50 L238.90,179.80 Z" fill="#008000" stroke="#021" stroke-width="0.6"/>
<path d="M249.20,178.00 L251.70,180.70 L249.20,183.40 L246.70,180.70 Z" fill="#008000" stroke="#021" stroke-width="0.6"/>
<path d="M257.20,179.20 L259.70,181.90 L257.20,184.60 L254.70,181.90 Z" fill="#008000" stroke="#021" stroke-width="0.6"/>
<path d="M267.10,183.00 L269.60,185.70 L267.10,188.40 L264.60,185.70 Z" fill="#008000" stroke="#021" stroke-width="0.6"/>
<path d="M278.10,186.60 L280.60,189.30 L278.10,192.00 L275.60,189.30 Z" fill="#008000" stroke="#021" stroke-width="0.6"/>
<path d="M291.40,189.40 L293.90,192.10 L291.40,194.80 L288.90,192.10 Z" fill="#008000" stroke="#021" stroke-width="0.6"/>
<path d="M307.60,194.70 L310.10,197.40 L307.60,200.10 L305.10,197.40 Z" fill="#008000" stroke="#021" stroke-width="0.6"/>
<path d="M327.80,199.70 L330.30,202.40 L327.80,205.10 L325.30,202.40 Z" fill="#008000" stroke="#021" stroke-width="0.6"/>
<path d="M357.20,207.80 L359.70,210.50 L357.20,213.20 L354.70,210.50 Z" fill="#008000" stroke="#021" stroke-width="0.6"/>
<path d="M39.55,1.15 H370.25 V232.2" fill="none" stroke="#828282" stroke-width="1.3"/>
<path d="M39.55,0.5499999999999999 V232.2 H370.85" fill="none" stroke="#222" stroke-width="1.1"/>
<path d="M39.55,11.74 h3.4 M370.25,11.74 h-3.0 M39.55,108.20 h3.4 M370.25,108.20 h-3.0 M39.55,204.66 h3.4 M370.25,204.66 h-3.0 M39.55,25.12 h2.0 M370.25,25.12 h-1.8 M39.55,42.36 h2.0 M370.25,42.36 h-1.8 M39.55,66.66 h2.0 M370.25,66.66 h-1.8 M39.55,72.97 h2.0 M370.25,72.97 h-1.8 M39.55,80.03 h2.0 M370.25,80.03 h-1.8 M39.55,88.03 h2.0 M370.25,88.03 h-1.8 M39.55,97.27 h2.0 M370.25,97.27 h-1.8 M39.55,121.57 h2.0 M370.25,121.57 h-1.8 M39.55,138.82 h2.0 M370.25,138.82 h-1.8 M39.55,163.12 h2.0 M370.25,163.12 h-1.8 M39.55,169.43 h2.0 M370.25,169.43 h-1.8 M39.55,176.49 h2.0 M370.25,176.49 h-1.8 M39.55,184.49 h2.0 M370.25,184.49 h-1.8 M39.55,193.73 h2.0 M370.25,193.73 h-1.8 M39.55,218.03 h2.0 M370.25,218.03 h-1.8 M204.90,232.2 v-3.5 M204.90,1.15 v3.5 M89.29,232.2 v-2.0 M89.29,1.15 v1.9 M118.42,232.2 v-2.0 M118.42,1.15 v1.9 M139.08,232.2 v-2.0 M139.08,1.15 v1.9 M155.11,232.2 v-2.0 M155.11,1.15 v1.9 M168.21,232.2 v-2.0 M168.21,1.15 v1.9 M179.28,232.2 v-2.0 M179.28,1.15 v1.9 M188.87,232.2 v-2.0 M188.87,1.15 v1.9 M197.33,232.2 v-2.0 M197.33,1.15 v1.9 M254.69,232.2 v-2.0 M254.69,1.15 v1.9 M283.82,232.2 v-2.0 M283.82,1.15 v1.9 M304.48,232.2 v-2.0 M304.48,1.15 v1.9 M320.51,232.2 v-2.0 M320.51,1.15 v1.9 M333.61,232.2 v-2.0 M333.61,1.15 v1.9 M344.68,232.2 v-2.0 M344.68,1.15 v1.9 M354.27,232.2 v-2.0 M354.27,1.15 v1.9 M362.73,232.2 v-2.0 M362.73,1.15 v1.9" fill="none" stroke="#333" stroke-width="0.9"/>
<g fill="none">
<path d="M246.6,28.9 H276.5" stroke="#ff2020" stroke-width="1.3" stroke-dasharray="6 3.6 6.3 4 6.4 3.2 1"/>
<path d="M246.7,49.6 H277.2" stroke="#0000ff" stroke-width="1.3" stroke-dasharray="1.1 3.1 5.9 3.5 1.2 3.4 8 3.1 1.2 9"/>
<path d="M246.9,70.2 H277" stroke="#009000" stroke-width="1.3" stroke-dasharray="1.2 3.5 6 3.9 1.2 3.2 1.2 4.2 5.7 9"/>
<path d="M246.7,91.2 H277" stroke="#9a10d8" stroke-width="1.3"/>
</g>
<g style="font-family:'Liberation Serif',serif;font-size:15.5px;fill:#000">
<text x="36.4" y="17.6" text-anchor="end">5</text>
<text x="36.4" y="113.6" text-anchor="end">1</text>
<text x="36.1" y="209.9" text-anchor="end">0.2</text>
<text x="39.6" y="246.6" text-anchor="middle">0.01</text>
<text x="205" y="246.6" text-anchor="middle">0.1</text>
<text x="367.7" y="246.6">1</text>
<text x="205.2" y="260.4" text-anchor="middle" font-style="italic">T/w</text>
<text x="283.8" y="34.3" font-style="italic">U/w=1/2</text>
<text x="283.8" y="54.8" font-style="italic">U/w=1</text>
<text x="283.8" y="75.7" font-style="italic">U/w=3/2</text>
<text x="283.8" y="96.6" font-style="italic">U/w=2</text>
<g transform="translate(12.0,128.2) rotate(-90)"><text x="0" y="0" font-style="italic" style="font-size:16.3px">S</text><text x="8.3" y="6.8" style="font-size:12.3px">AF</text></g>
</g>
</svg>
</body></html>
